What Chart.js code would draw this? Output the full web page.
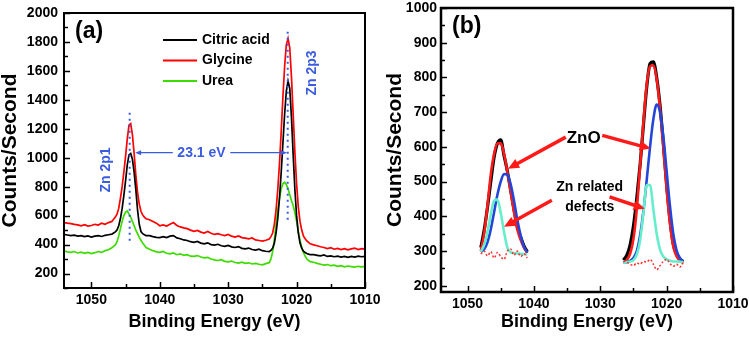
<!DOCTYPE html>
<html>
<head>
<meta charset="utf-8">
<script src="https://cdn.jsdelivr.net/npm/chart.js@4.4.1/dist/chart.umd.min.js"></script>
<style>
  body { margin: 0; background: #fff; }
  .wrap { position: relative; width: 749px; height: 344px; }
  #chartA { position: absolute; left: 0; top: 0; }
  #chartB { position: absolute; left: 375px; top: 0; }
</style>
</head>
<body>
<div class="wrap">
  <canvas id="chartA" width="385" height="344"></canvas>
  <canvas id="chartB" width="374" height="344"></canvas>
</div>
<script>
// ---- data, panel (a) ----
const aEnergy = [
  1054, 1053.5, 1053, 1052.5, 1052, 1051.5, 1051, 1050.5, 1050, 1049.5, 1049, 1048.5, 1048, 1047.5,
  1047, 1046.75, 1046.5, 1046.25, 1046, 1045.75, 1045.5, 1045.25, 1045, 1044.75, 1044.5, 1044.25, 1044,
  1043.75, 1043.5, 1043.25, 1043, 1042.75, 1042.5, 1042.25, 1042,
  1041.5, 1041, 1040.5, 1040, 1039.5, 1039, 1038.5, 1038, 1037.5, 1037, 1036.5, 1036, 1035.5, 1035,
  1034.5, 1034, 1033.5, 1033, 1032.5, 1032, 1031.5, 1031, 1030.5, 1030, 1029.5, 1029, 1028.5, 1028,
  1027.5, 1027, 1026.5, 1026, 1025.5, 1025, 1024.5,
  1024, 1023.75, 1023.5, 1023.25, 1023, 1022.75, 1022.5, 1022.25, 1022, 1021.75, 1021.5, 1021.25, 1021,
  1020.75, 1020.5, 1020.25, 1020, 1019.75, 1019.5, 1019.25, 1019, 1018.75, 1018.5, 1018.25, 1018,
  1017.5, 1017, 1016.5, 1016, 1015.5, 1015, 1014.5, 1014, 1013.5, 1013, 1012.5, 1012, 1011.5, 1011, 1010.5, 1010
];
const citricAcid = [
  470, 466, 462, 465, 458, 462, 455, 460, 452, 458, 462, 456, 464, 468,
  472, 480, 488, 500, 530, 580, 650, 740, 840, 950, 1020, 1030, 990, 900, 780, 640, 540, 490, 475, 468, 462,
  462, 455, 450, 448, 455, 448, 458, 462, 446, 440, 432, 428, 420, 416, 422, 410, 405, 412, 400, 396,
  402, 392, 388, 394, 384, 380, 386, 374, 370, 376, 366, 362, 368, 358, 354,
  352, 360, 375, 410, 480, 580, 720, 900, 1100, 1300, 1460, 1530, 1480, 1280, 1020, 780, 600, 480, 410,
  375, 355, 345, 338, 334, 330,
  330, 326, 322, 328, 318, 322, 316, 320, 314, 318, 312, 318, 314, 320, 316, 318
];
const glycine = [
  552, 548, 545, 540, 536, 530, 538, 528, 532, 540, 535, 548, 540, 552,
  560, 575, 590, 610, 650, 720, 800, 900, 1010, 1130, 1225, 1235, 1160, 1030, 880, 760, 680, 630, 605, 590, 578,
  572, 560, 548, 530, 536, 528, 540, 552, 532, 522, 515, 510, 500, 492, 498, 486, 480, 490, 478, 470,
  476, 468, 462, 470, 458, 452, 460, 448, 445, 440, 446, 432, 428, 424, 430,
  438, 455, 480, 540, 640, 780, 960, 1180, 1420, 1630, 1780, 1825, 1760, 1560, 1300, 1040, 820, 660, 560,
  500, 460, 440, 425, 415, 405,
  398, 392, 385, 380, 372, 378, 368, 374, 366, 372, 364, 370, 376, 366, 372, 368
];
const urea = [
  356, 350, 346, 352, 342, 348, 340, 346, 338, 344, 352, 346, 358, 364,
  378, 388, 398, 420, 460, 510, 560, 600, 625, 632, 610, 590, 560, 530, 500, 475, 450, 430, 410, 395, 380,
  368, 358, 350, 346, 352, 340, 336, 342, 330, 336, 326, 330, 320, 318, 324, 314, 308, 312, 300, 294,
  290, 296, 284, 280, 286, 276, 272, 278, 270, 274, 266, 270, 264, 260, 268,
  275, 300, 350, 430, 540, 640, 720, 785, 820, 830, 815, 785, 745, 705, 670, 620, 560, 490, 430,
  380, 345, 320, 300, 290, 282,
  278, 270, 264, 258, 262, 254, 258, 250, 254, 246, 252, 248, 244, 250, 246, 250
];
const xTicks = [1050, 1040, 1030, 1020, 1010];
const yTicksA = [200, 400, 600, 800, 1000, 1200, 1400, 1600, 1800, 2000];

// ---- data, panel (b) ----
const bLeftE = [1048, 1047.5, 1047, 1046.5, 1046, 1045.5, 1045, 1044.5, 1044, 1043.5, 1043, 1042.5, 1042, 1041.5, 1041];
const bRightE = [1026.5, 1026, 1025.5, 1025, 1024.5, 1024, 1023.5, 1023, 1022.5, 1022, 1021.5, 1021, 1020.5,
  1020, 1019.5, 1019, 1018.5, 1018, 1017.5];
const measuredL = [310, 360, 425, 500, 570, 610, 620, 575, 530, 475, 420, 370, 340, 315, 298];
const measuredR = [274, 288, 318, 372, 452, 548, 662, 772, 840, 845, 800, 720, 610, 490, 390, 320, 290, 276, 270];
const envelopeL = [300, 350, 430, 520, 580, 610, 610, 580, 528, 470, 412, 362, 332, 310, 294];
const envelopeR = [266, 274, 292, 335, 420, 545, 670, 780, 832, 835, 795, 712, 600, 480, 380, 314, 285, 272, 266];
const znoL = [298, 305, 325, 362, 412, 462, 500, 522, 520, 492, 445, 390, 345, 312, 296];
const znoR = [266, 268, 272, 280, 300, 345, 415, 505, 600, 680, 722, 700, 630, 530, 430, 350, 302, 280, 270];
const defectL = [298, 318, 355, 405, 445, 448, 410, 355, 310, 296, 294, 293, 292, 291, 290];
const defectR = [266, 268, 270, 274, 290, 330, 410, 490, 490, 420, 350, 305, 284, 276, 272, 270, 270, 269, 268];
const residualL = [292, 300, 286, 298, 280, 296, 284, 276, 300, 306, 288, 300, 284, 292, 280];
const residualR = [272, 268, 262, 258, 266, 262, 270, 268, 276, 262, 246, 258, 270, 276, 264, 256, 262, 254, 266];
const yTicksB = [200, 300, 400, 500, 600, 700, 800, 900, 1000];

const FONT = '"Liberation Sans", Arial, sans-serif';
const BLUE = '#3a5ce0';
const RED = '#ff1a1a';

function pts(xs, ys) {
  return xs.map((x, i) => ({ x: x, y: ys[i] }));
}
function twoGroups(left, right) {
  return pts(bLeftE, left).concat([{ x: 1033, y: null }], pts(bRightE, right));
}

function arrow(ctx, x1, y1, x2, y2, head, w) {
  const a = Math.atan2(y2 - y1, x2 - x1);
  const c = Math.cos(a), s = Math.sin(a);
  ctx.beginPath();
  ctx.moveTo(x1, y1);
  ctx.lineTo(x2 - c * head * 0.7, y2 - s * head * 0.7);
  ctx.stroke();
  ctx.beginPath();
  ctx.moveTo(x2, y2);
  ctx.lineTo(x2 - c * head + s * w / 2, y2 - s * head - c * w / 2);
  ctx.lineTo(x2 - c * head - s * w / 2, y2 - s * head + c * w / 2);
  ctx.closePath();
  ctx.fill();
}

// box round the plot and inward tick marks
const frame = {
  id: 'frame',
  afterDraw(chart, args, o) {
    const { ctx, chartArea: a, scales: { x, y } } = chart;
    ctx.save();
    ctx.strokeStyle = '#000';
    ctx.lineWidth = o.tickWidth;
    ctx.beginPath();
    for (let v = x.min; v <= x.max; v += o.xMinor) {
      const px = Math.round(x.getPixelForValue(v)) + 0.5;
      const len = v % o.xMajor === 0 ? 6 : 4;
      ctx.moveTo(px, a.bottom);
      ctx.lineTo(px, a.bottom - len);
    }
    for (let v = Math.ceil(y.min / o.yMinor) * o.yMinor; v <= y.max; v += o.yMinor) {
      const py = Math.round(y.getPixelForValue(v)) + 0.5;
      const len = v % o.yMajor === 0 ? 6 : 4;
      ctx.moveTo(a.left, py);
      ctx.lineTo(a.left + len, py);
    }
    ctx.stroke();
    ctx.lineWidth = o.lineWidth;
    ctx.strokeRect(a.left, a.top, a.right - a.left, a.bottom - a.top);
    ctx.fillStyle = '#000';
    ctx.font = 'bold 23px ' + FONT;
    ctx.textBaseline = 'middle';
    ctx.fillText(o.tag, a.left + o.tagDx, a.top + o.tagDy);
    ctx.restore();
  }
};

// panel (a) notes: peak markers, splitting arrow, legend
const peakLines = [
  { e: 1044.4, from: 420, to: 1310, label: 'Zn 2p1', le: 1047.8, lv: 915 },
  { e: 1021.3, from: 550, to: 1870, label: 'Zn 2p3', le: 1017.8, lv: 1586 }
];
const splitNote = { text: '23.1 eV', v: 1035, te: 1033.9, leftFrom: 1038.1, leftTo: 1043.6, rightFrom: 1029.7, rightTo: 1021.4 };

const notesA = {
  id: 'notesA',
  afterDraw(chart) {
    const { ctx, chartArea: a, scales: { x, y } } = chart;
    ctx.save();
    ctx.strokeStyle = BLUE;
    ctx.fillStyle = BLUE;
    ctx.lineWidth = 2;
    ctx.setLineDash([2, 4]);
    for (const p of peakLines) {
      const px = x.getPixelForValue(p.e);
      ctx.beginPath();
      ctx.moveTo(px, y.getPixelForValue(p.to));
      ctx.lineTo(px, y.getPixelForValue(p.from));
      ctx.stroke();
    }
    ctx.setLineDash([]);
    ctx.lineWidth = 1.2;
    const py = y.getPixelForValue(splitNote.v);
    arrow(ctx, x.getPixelForValue(splitNote.leftFrom), py, x.getPixelForValue(splitNote.leftTo), py, 6, 5);
    arrow(ctx, x.getPixelForValue(splitNote.rightFrom), py, x.getPixelForValue(splitNote.rightTo), py, 6, 5);
    ctx.font = 'bold 14px ' + FONT;
    ctx.textAlign = 'center';
    ctx.textBaseline = 'middle';
    ctx.fillText(splitNote.text, x.getPixelForValue(splitNote.te), py);
    for (const p of peakLines) {
      ctx.save();
      ctx.translate(x.getPixelForValue(p.le), y.getPixelForValue(p.lv));
      ctx.rotate(-Math.PI / 2);
      ctx.fillText(p.label, 0, 0);
      ctx.restore();
    }
    // legend
    ctx.textAlign = 'left';
    chart.data.datasets.forEach((d, i) => {
      const ly = a.top + 27 + i * 20.5;
      ctx.strokeStyle = d.borderColor;
      ctx.lineWidth = 2;
      ctx.beginPath();
      ctx.moveTo(a.left + 99, ly);
      ctx.lineTo(a.left + 133, ly);
      ctx.stroke();
      ctx.fillStyle = '#000';
      ctx.fillText(d.label, a.left + 138, ly);
    });
    ctx.restore();
  }
};

// panel (b) notes: labels and red arrows
const labelsB = [
  { text: 'ZnO', e: 1032.5, v: 624, size: 17 },
  { text: 'Zn related', e: 1031.6, v: 484, size: 14 },
  { text: 'defects', e: 1031.6, v: 425, size: 14 }
];
const arrowsB = [
  { from: [1035.2, 628], to: [1043.9, 537] },
  { from: [1029.7, 633], to: [1022.4, 595] },
  { from: [1037.3, 446], to: [1044.5, 370] },
  { from: [1028.6, 456], to: [1023.3, 422] }
];

const notesB = {
  id: 'notesB',
  afterDraw(chart) {
    const { ctx, scales: { x, y } } = chart;
    ctx.save();
    ctx.strokeStyle = RED;
    ctx.fillStyle = RED;
    ctx.lineWidth = 3.5;
    for (const ar of arrowsB) {
      arrow(ctx, x.getPixelForValue(ar.from[0]), y.getPixelForValue(ar.from[1]),
        x.getPixelForValue(ar.to[0]), y.getPixelForValue(ar.to[1]), 11, 10);
    }
    ctx.fillStyle = '#000';
    ctx.textAlign = 'center';
    ctx.textBaseline = 'middle';
    for (const l of labelsB) {
      ctx.font = 'bold ' + l.size + 'px ' + FONT;
      ctx.fillText(l.text, x.getPixelForValue(l.e), y.getPixelForValue(l.v));
    }
    ctx.restore();
  }
};

function axes(opts) {
  const tickFont = { family: FONT, size: 14, weight: 'bold' };
  return {
    x: {
      type: 'linear', reverse: true, min: 1010, max: 1054,
      afterBuildTicks: s => { s.ticks = xTicks.map(v => ({ value: v })); },
      afterFit: s => { s.height = opts.xHeight; s.paddingLeft = 0; s.paddingRight = 0; },
      grid: { display: false, drawTicks: false },
      border: { display: false },
      ticks: { color: '#000', font: tickFont, padding: 4, maxRotation: 0, autoSkip: false, callback: v => String(v) },
      title: {
        display: true, text: 'Binding Energy (eV)', color: '#000',
        font: { family: FONT, size: 18, weight: 'bold', lineHeight: 1 },
        padding: { top: 0, bottom: 13 }
      }
    },
    y: {
      type: 'linear', min: opts.yMin, max: opts.yMax,
      afterBuildTicks: s => { s.ticks = opts.yTicks.map(v => ({ value: v })); },
      afterFit: s => { s.width = opts.yWidth; s.paddingTop = 0; s.paddingBottom = 0; },
      grid: { display: false, drawTicks: false },
      border: { display: false },
      ticks: { color: '#000', font: tickFont, padding: opts.yPad, autoSkip: false, callback: v => String(v) },
      title: {
        display: true, text: 'Counts/Second', color: '#000',
        font: { family: FONT, size: 21, weight: 'bold', lineHeight: 1 },
        padding: { top: opts.titlePad, bottom: 0 }
      }
    }
  };
}

new Chart(document.getElementById('chartA'), {
  type: 'line',
  data: {
    datasets: [
      { label: 'Citric acid', data: pts(aEnergy, citricAcid), borderColor: '#000000', borderWidth: 1.7 },
      { label: 'Glycine', data: pts(aEnergy, glycine), borderColor: '#ff0000', borderWidth: 1.7 },
      { label: 'Urea', data: pts(aEnergy, urea), borderColor: '#3ddc00', borderWidth: 1.7 }
    ]
  },
  options: {
    responsive: false, animation: false, devicePixelRatio: 1,
    layout: { padding: { top: 13, right: 20, bottom: 0, left: 0 } },
    elements: { point: { radius: 0 }, line: { tension: 0 } },
    plugins: {
      legend: { display: false }, tooltip: { enabled: false },
      frame: { lineWidth: 2, tickWidth: 1.5, xMinor: 5, xMajor: 10, yMinor: 100, yMajor: 200, tag: '(a)', tagDx: 11, tagDy: 19 }
    },
    scales: axes({ xHeight: 56, yMin: 100, yMax: 2000, yTicks: yTicksA, yWidth: 64, yPad: 6, titlePad: 0 })
  },
  plugins: [frame, notesA]
});

// order: lower numbers are drawn on top
new Chart(document.getElementById('chartB'), {
  type: 'line',
  data: {
    datasets: [
      { label: 'Measured', data: twoGroups(measuredL, measuredR), borderColor: '#000000', borderWidth: 3.2, order: 5 },
      { label: 'Fit', data: twoGroups(envelopeL, envelopeR), borderColor: RED, borderWidth: 2.6, order: 4 },
      { label: 'ZnO', data: twoGroups(znoL, znoR), borderColor: '#2446d8', borderWidth: 2.6, order: 3 },
      { label: 'Zn related defects', data: twoGroups(defectL, defectR), borderColor: '#66eecc', borderWidth: 2.6, order: 2 },
      { label: 'Residual', data: twoGroups(residualL, residualR), borderColor: '#ff3030', borderWidth: 1.5, borderDash: [2, 2], tension: 0.3, order: 1 }
    ]
  },
  options: {
    responsive: false, animation: false, devicePixelRatio: 1, spanGaps: false,
    layout: { padding: { top: 8, right: 16, bottom: 0, left: 0 } },
    elements: { point: { radius: 0 }, line: { tension: 0.4, cubicInterpolationMode: 'monotone' } },
    plugins: {
      legend: { display: false }, tooltip: { enabled: false },
      frame: { lineWidth: 2.5, tickWidth: 1.5, xMinor: 5, xMajor: 10, yMinor: 50, yMajor: 100, tag: '(b)', tagDx: 11, tagDy: 19 }
    },
    scales: axes({ xHeight: 52, yMin: 182, yMax: 1000, yTicks: yTicksB, yWidth: 66, yPad: 4, titlePad: 9.5 })
  },
  plugins: [frame, notesB]
});
</script>
</body>
</html>
